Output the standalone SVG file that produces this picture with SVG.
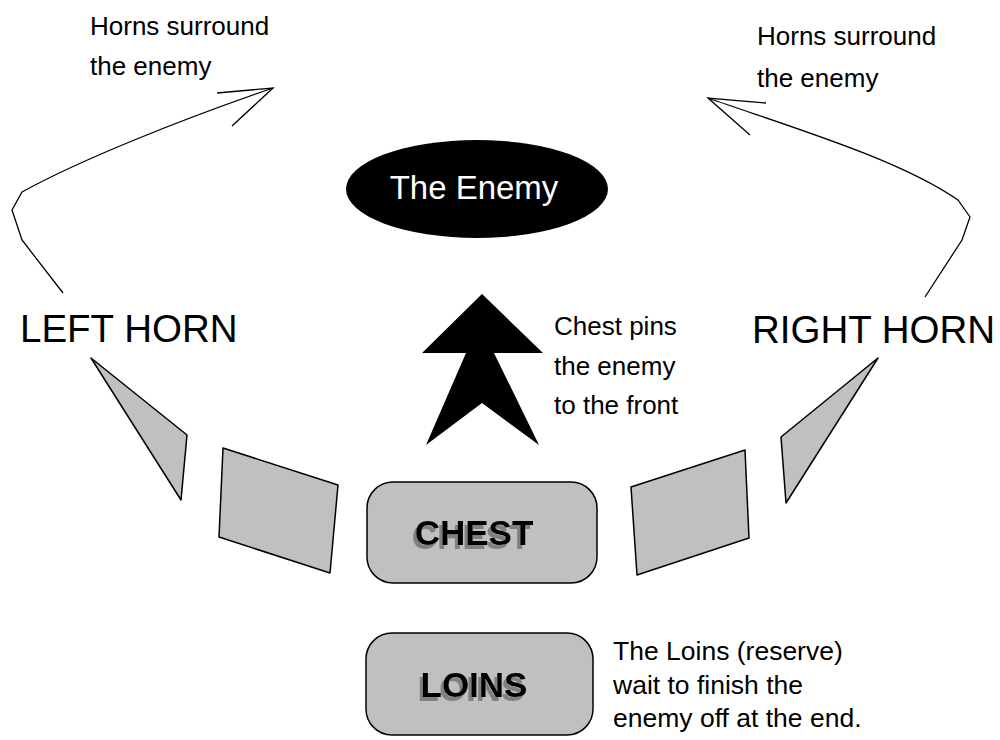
<svg xmlns="http://www.w3.org/2000/svg" width="1000" height="740" viewBox="0 0 1000 740">
<style>
  .t{font-family:"Liberation Sans",Arial,sans-serif;fill:#000}
  .small{font-size:26px}
  .note{font-size:26.5px}
  .horn{font-size:38.5px}
  .box{fill:#c0c0c0;stroke:#000;stroke-width:1.5}
  .unit{fill:#c0c0c0;stroke:#000;stroke-width:1.5;stroke-linejoin:round}
  .lbl{font-family:"Liberation Sans",Arial,sans-serif;font-size:35px;font-weight:bold;text-anchor:middle;fill:#000;filter:url(#shadow)}
  .conn{fill:none;stroke:#000;stroke-width:1.3}
</style>
<defs>
  <filter id="shadow" x="-20%" y="-30%" width="140%" height="160%">
    <feFlood flood-color="#808080" result="c"/>
    <feComposite in="c" in2="SourceAlpha" operator="in" result="s"/>
    <feOffset in="s" dx="-3" dy="4" result="o"/>
    <feMerge><feMergeNode in="o"/><feMergeNode in="SourceGraphic"/></feMerge>
  </filter>
</defs>
<rect width="1000" height="740" fill="#fff"/>

<g id="connectors">
  <path class="conn" d="M63,293 L22,240 L12,210 L22,192 C80,160 180,120 273,88"/>
  <path class="conn" d="M217,93 L273,88 L232,126"/>
  <path class="conn" d="M925,297 L962,240 L970,217 L958,200 C900,160 800,130 708,98"/>
  <path class="conn" d="M766,103 L708,98 L750,135"/>
</g>

<g id="enemy">
  <ellipse cx="477" cy="189" rx="131" ry="49" fill="#000"/>
  <text class="t" x="474" y="199" font-size="33" text-anchor="middle" style="fill:#fff">The Enemy</text>
</g>

<g id="chest-arrow">
  <polygon points="482,294 422,353 466,353 426,445 482,403 539,445 494,353 543,353" fill="#000"/>
</g>

<g id="chest-note">
  <text class="t small" x="554" y="335">Chest pins</text>
  <text class="t small" x="554" y="375">the enemy</text>
  <text class="t small" x="554" y="414">to the front</text>
</g>

<g id="left-horn">
  <text class="t horn" x="20" y="342">LEFT HORN</text>
  <polygon class="unit" points="91,358 187,435 181,500"/>
  <polygon class="unit" points="223,448 338,485 330,573 219,537"/>
</g>

<g id="right-horn">
  <text class="t horn" x="752" y="343">RIGHT HORN</text>
  <polygon class="unit" points="878,358 781,437 786,503"/>
  <polygon class="unit" points="631,487 745,450 749,538 637,575"/>
</g>

<g id="horns-note-left">
  <text class="t small" x="90" y="35">Horns surround</text>
  <text class="t small" x="90" y="75">the enemy</text>
</g>

<g id="horns-note-right">
  <text class="t small" x="757" y="45">Horns surround</text>
  <text class="t small" x="757" y="87">the enemy</text>
</g>

<g id="chest">
  <rect class="box" x="367" y="482" width="230" height="101" rx="26"/>
  <text class="lbl" x="474" y="545">CHEST</text>
</g>

<g id="loins">
  <rect class="box" x="366" y="633" width="227" height="102" rx="26"/>
  <text class="lbl" x="474" y="697">LOINS</text>
</g>

<g id="loins-note">
  <text class="t note" x="613" y="660">The Loins (reserve)</text>
  <text class="t note" x="613" y="694">wait to finish the</text>
  <text class="t note" x="613" y="727">enemy off at the end.</text>
</g>
</svg>
